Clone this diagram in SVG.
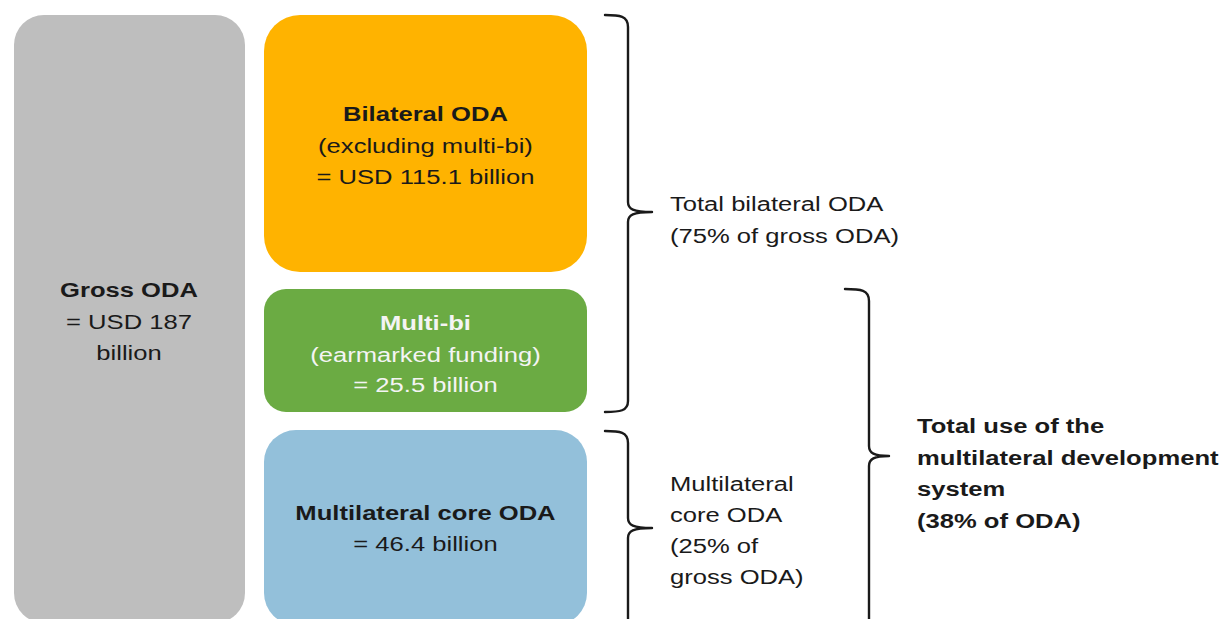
<svg xmlns="http://www.w3.org/2000/svg" width="1222" height="619" viewBox="0 0 1222 619">
<style>
  text { font-family: "Liberation Sans", Arial, sans-serif; font-size: 20px; fill: #1a1a1a; }
  .c { text-anchor: middle; }
  .b { font-weight: bold; }
  .w { fill: #f4f4f4; }
  .brace { fill: none; stroke: #1a1a1a; stroke-width: 2.4; stroke-linecap: round; stroke-linejoin: round; }
</style>
<rect width="1222" height="619" fill="#ffffff"/>
<g id="gross">
  <rect x="14" y="15" width="231" height="608" rx="30" fill="#bebebe"/>
  <text class="c b" transform="scale(1.28 1)" x="100.8" y="297">Gross ODA</text>
  <text class="c" transform="scale(1.28 1)" x="100.8" y="329">= USD 187</text>
  <text class="c" transform="scale(1.28 1)" x="100.8" y="360">billion</text>
</g>
<g id="bilateral">
  <rect x="264" y="15" width="323" height="257" rx="36" fill="#ffb300"/>
  <text class="c b" transform="scale(1.28 1)" x="332.4" y="121">Bilateral ODA</text>
  <text class="c" transform="scale(1.28 1)" x="332.4" y="153">(excluding multi-bi)</text>
  <text class="c" transform="scale(1.28 1)" x="332.4" y="184">= USD 115.1 billion</text>
</g>
<g id="multibi">
  <rect x="264" y="289" width="323" height="123" rx="22" fill="#6bab43"/>
  <text class="c b w" transform="scale(1.28 1)" x="332.4" y="330">Multi-bi</text>
  <text class="c w" transform="scale(1.28 1)" x="332.4" y="362">(earmarked funding)</text>
  <text class="c w" transform="scale(1.28 1)" x="332.4" y="392">= 25.5 billion</text>
</g>
<g id="multicore">
  <rect x="264" y="430" width="323" height="195" rx="32" fill="#93c0da"/>
  <text class="c b" transform="scale(1.28 1)" x="332.4" y="520">Multilateral core ODA</text>
  <text class="c" transform="scale(1.28 1)" x="332.4" y="551">= 46.4 billion</text>
</g>
<g id="connectors">
  <path class="brace" d="M605,15 C620,15 628,16 628,27 L628,202 C628,209 633,212 652,212 C633,212 628,215 628,222 L628,401 C628,411 620,412 605,412"/>
  <path class="brace" d="M605,431 C620,431 628,432 628,443 L628,518 C628,525 633,528 652,528 C633,528 628,531 628,538 L628,640"/>
  <path class="brace" d="M845,289 C861,289 869,290 869,301 L869,446 C869,453 874,456 889,456 C874,456 869,459 869,466 L869,640"/>
</g>
<g id="label-bilateral">
  <text transform="scale(1.28 1)" x="523.4" y="211">Total bilateral ODA</text>
  <text transform="scale(1.28 1)" x="523.4" y="243">(75% of gross ODA)</text>
</g>
<g id="label-core">
  <text transform="scale(1.28 1)" x="523.4" y="491">Multilateral</text>
  <text transform="scale(1.28 1)" x="523.4" y="522">core ODA</text>
  <text transform="scale(1.28 1)" x="523.4" y="553">(25% of</text>
  <text transform="scale(1.28 1)" x="523.4" y="584">gross ODA)</text>
</g>
<g id="label-total">
  <text class="b" transform="scale(1.28 1)" x="716.4" y="433">Total use of the</text>
  <text class="b" transform="scale(1.28 1)" x="716.4" y="465">multilateral development</text>
  <text class="b" transform="scale(1.28 1)" x="716.4" y="496">system</text>
  <text class="b" transform="scale(1.28 1)" x="716.4" y="528">(38% of ODA)</text>
</g>
</svg>
